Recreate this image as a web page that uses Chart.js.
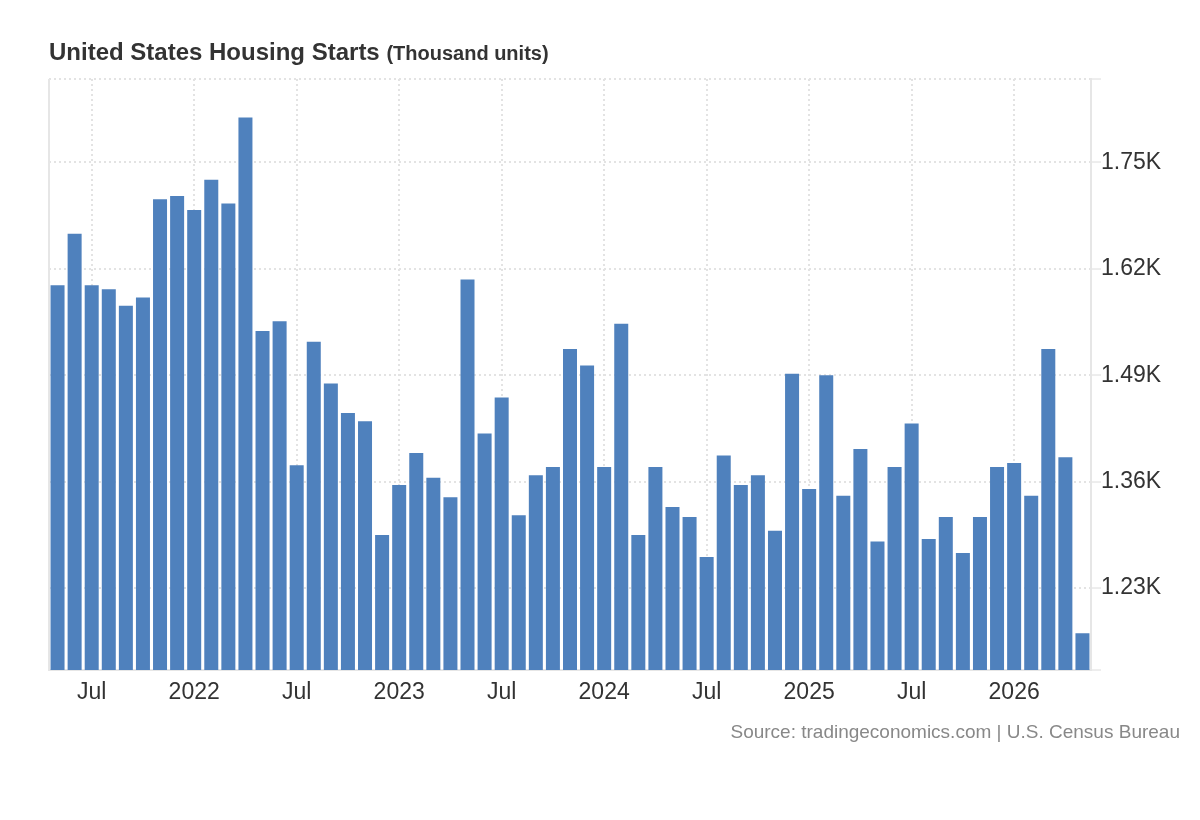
<!DOCTYPE html>
<html>
<head>
<meta charset="utf-8">
<title>United States Housing Starts</title>
<script src="https://cdn.jsdelivr.net/npm/chart.js@4.4.0/dist/chart.umd.min.js"></script>
<style>
    body { margin: 0; background: #fff; font-family: "Liberation Sans", Arial, sans-serif; }
    #wrap { position: absolute; left: 0; top: 0; width: 1200px; height: 820px; }
    #title { position: absolute; left: 49px; top: 40px; line-height: 24px; color: #333; font-weight: bold; font-size: 24px; white-space: nowrap; }
    #title span { font-size: 20px; }
    #source { position: absolute; right: 20px; top: 722px; line-height: 19px; font-size: 19px; color: #888; white-space: nowrap; }
</style>
</head>
<body>
<div id="wrap"><canvas id="startsChart"></canvas></div>
<div id="title">United States Housing Starts <span>(Thousand units)</span></div>
<div id="source">Source: tradingeconomics.com | U.S. Census Bureau</div>
<script>
// months shown as bars
var months = [
    '2021-05', '2021-06', '2021-07', '2021-08', '2021-09', '2021-10', '2021-11', '2021-12',
    '2022-01', '2022-02', '2022-03', '2022-04', '2022-05', '2022-06', '2022-07', '2022-08',
    '2022-09', '2022-10', '2022-11', '2022-12', '2023-01', '2023-02', '2023-03', '2023-04',
    '2023-05', '2023-06', '2023-07', '2023-08', '2023-09', '2023-10', '2023-11', '2023-12',
    '2024-01', '2024-02', '2024-03', '2024-04', '2024-05', '2024-06', '2024-07', '2024-08',
    '2024-09', '2024-10', '2024-11', '2024-12', '2025-01', '2025-02', '2025-03', '2025-04',
    '2025-05', '2025-06', '2025-07', '2025-08', '2025-09', '2025-10', '2025-11', '2025-12',
    '2026-01', '2026-02', '2026-03', '2026-04', '2026-05'
];

// housing starts, thousand units
var starts = [
    1600, 1663, 1600, 1595, 1575, 1585, 1705, 1709,
    1692, 1729, 1700, 1805, 1544, 1556, 1380, 1531,
    1480, 1444, 1434, 1295, 1356, 1395, 1365, 1341,
    1607, 1419, 1463, 1319, 1368, 1378, 1522, 1502,
    1378, 1553, 1295, 1378, 1329, 1317, 1268, 1392,
    1356, 1368, 1300, 1492, 1351, 1490, 1343, 1400,
    1287, 1378, 1431, 1290, 1317, 1273, 1317, 1378,
    1383, 1343, 1522, 1390, 1175
];

// x axis labels
var xTickMonths = ['2021-07', '2022-01', '2022-07', '2023-01', '2023-07', '2024-01', '2024-07', '2025-01', '2025-07', '2026-01'];
var xTickText = ['Jul', '2022', 'Jul', '2023', 'Jul', '2024', 'Jul', '2025', 'Jul', '2026'];

// y axis labels
var yTickValues = [1230, 1360, 1490, 1620, 1750];
var yTickText = ['1.23K', '1.36K', '1.49K', '1.62K', '1.75K'];
var yMin = 1130;
var yMax = 1852;

var fontFamily = '"Liberation Sans", Arial, sans-serif';
var gridColor = '#e3e3e3';

// left edge of the plot
var leftFrame = {
    id: 'leftFrame',
    beforeDatasetsDraw: function(chart) {
        var area = chart.chartArea;
        var ctx = chart.ctx;
        ctx.save();
        ctx.strokeStyle = '#e6e6e6';
        ctx.lineWidth = 2;
        ctx.beginPath();
        ctx.moveTo(area.left, area.top);
        ctx.lineTo(area.left, area.bottom);
        ctx.stroke();
        ctx.restore();
    }
};

var ctx = document.getElementById('startsChart').getContext('2d');
var startsChart = new Chart(ctx, {
    type: 'bar',
    data: {
        labels: months,
        datasets: [{
            label: 'Housing Starts',
            data: starts,
            backgroundColor: '#4f81bd',
            borderWidth: 0,
            barPercentage: 0.82,
            categoryPercentage: 1.0
        }]
    },
    options: {
        responsive: true,
        maintainAspectRatio: false,
        animation: false,
        layout: {
            padding: { left: 49, top: 79, right: 0, bottom: 110 }
        },
        plugins: {
            legend: { display: false },
            tooltip: { enabled: false }
        },
        scales: {
            x: {
                offset: true,
                grid: {
                    offset: false,
                    color: gridColor,
                    lineWidth: 2,
                    drawTicks: false
                },
                border: {
                    display: true,
                    color: '#e6e6e6',
                    width: 2,
                    dash: [2, 3]
                },
                afterBuildTicks: function(scale) {
                    scale.ticks = scale.ticks.filter(function(t) {
                        return xTickMonths.indexOf(months[t.value]) !== -1;
                    });
                },
                afterFit: function(scale) {
                    scale.height = 40;
                },
                ticks: {
                    autoSkip: false,
                    maxRotation: 0,
                    padding: 9,
                    color: '#333',
                    font: { family: fontFamily, size: 23 },
                    callback: function(value) {
                        var i = xTickMonths.indexOf(months[value]);
                        return i === -1 ? '' : xTickText[i];
                    }
                }
            },
            y: {
                position: 'right',
                min: yMin,
                max: yMax,
                grid: {
                    color: gridColor,
                    lineWidth: 2,
                    drawTicks: true,
                    tickLength: 10,
                    tickColor: '#dcdcdc',
                    tickWidth: 1
                },
                border: {
                    display: true,
                    color: '#e6e6e6',
                    width: 2,
                    dash: [2, 3]
                },
                afterBuildTicks: function(scale) {
                    var vals = [yMin].concat(yTickValues, [yMax]);
                    scale.ticks = vals.map(function(v) { return { value: v }; });
                },
                afterFit: function(scale) {
                    scale.width = 109;
                },
                ticks: {
                    padding: 0,
                    color: '#333',
                    font: { family: fontFamily, size: 23 },
                    callback: function(value) {
                        var i = yTickValues.indexOf(value);
                        return i === -1 ? '' : yTickText[i];
                    }
                }
            }
        }
    },
    plugins: [leftFrame]
});
</script>
</body>
</html>
